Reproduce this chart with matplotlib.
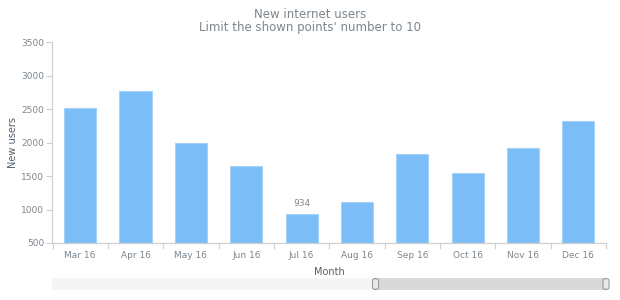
import matplotlib
matplotlib.use("Agg")
import matplotlib.pyplot as plt
from matplotlib.patches import FancyBboxPatch, Rectangle

months = ["Mar 16", "Apr 16", "May 16", "Jun 16", "Jul 16", "Aug 16",
          "Sep 16", "Oct 16", "Nov 16", "Dec 16"]
users = [2520, 2770, 2000, 1650, 934, 1110, 1830, 1540, 1920, 2320]
y_ticks = [500, 1000, 1500, 2000, 2500, 3000, 3500]
labeled_month = "Jul 16"

plt.rcParams['font.family'] = ['DejaVu Sans']
W, H = 620, 300
fig = plt.figure(figsize=(W / 100, H / 100), dpi=100)
fig.patch.set_facecolor("white")

left, right, top, bottom = 52.5, 606, 42.3, 243
ax = fig.add_axes([left / W, 1 - bottom / H, (right - left) / W, (bottom - top) / H])

x = list(range(len(months)))
ax.bar(x, users, width=0.58, bottom=0, color="#7bbdf6", edgecolor="#a6d2f8",
       linewidth=0.8, zorder=2)
ax.set_xlim(-0.5, len(months) - 0.5)
ax.set_ylim(500, 3500)
ax.set_yticks(y_ticks)
ax.set_yticklabels([str(v) for v in y_ticks])
ax.set_xticks(x)
ax.set_xticklabels(months)
ax.set_xticks([i - 0.5 for i in range(len(months) + 1)], minor=True)

tick_col = "#7c868e"
line_col = "#d0d0d0"
ax.tick_params(axis="y", which="major", length=4, width=0.8, color=line_col,
               labelsize=6.5, labelcolor=tick_col, pad=2)
ax.tick_params(axis="x", which="major", length=0, labelsize=6.5,
               labelcolor=tick_col, pad=6)
ax.tick_params(axis="x", which="minor", length=4, width=0.8, color=line_col)
for s in ["top", "right"]:
    ax.spines[s].set_visible(False)
for s in ["left", "bottom"]:
    ax.spines[s].set_color(line_col)
    ax.spines[s].set_linewidth(0.9)

ax.set_ylabel("New users", fontsize=7, color="#545f69", labelpad=2)
ax.set_xlabel("Month", fontsize=7, color="#545f69", labelpad=5)

idx = months.index(labeled_month)
ax.annotate(str(users[idx]), (idx, users[idx]), xytext=(0, 4),
            textcoords="offset points", ha="center", va="bottom",
            fontsize=6.5, color=tick_col)

fig.text(0.5, 1 - 14 / H, "New internet users", ha="center", va="center",
         fontsize=8.5, color="#7c868e")
fig.text(0.5, 1 - 27 / H, "Limit the shown points' number to 10", ha="center",
         va="center", fontsize=8.5, color="#7c868e")

# scroller
sy0, sy1 = 278, 290
fig.patches.append(Rectangle((left / W, 1 - sy1 / H), (right - left) / W,
                             (sy1 - sy0) / H, transform=fig.transFigure,
                             facecolor="#f5f5f5", edgecolor="none"))
tx0 = 375.5
fig.patches.append(Rectangle((tx0 / W, 1 - sy1 / H), (right - tx0) / W,
                             (sy1 - sy0) / H, transform=fig.transFigure,
                             facecolor="#d9d9d9", edgecolor="none"))
for hx in (tx0, right):
    fig.patches.append(FancyBboxPatch(((hx - 3) / W, 1 - (sy1 - 0.5) / H),
                                      6 / W, (sy1 - sy0 - 1) / H,
                                      boxstyle="round,pad=0,rounding_size=0.006",
                                      transform=fig.transFigure,
                                      facecolor="#e9e9e9", edgecolor="#9a9a9a",
                                      linewidth=0.8))

fig.savefig("out.png", dpi=100)
